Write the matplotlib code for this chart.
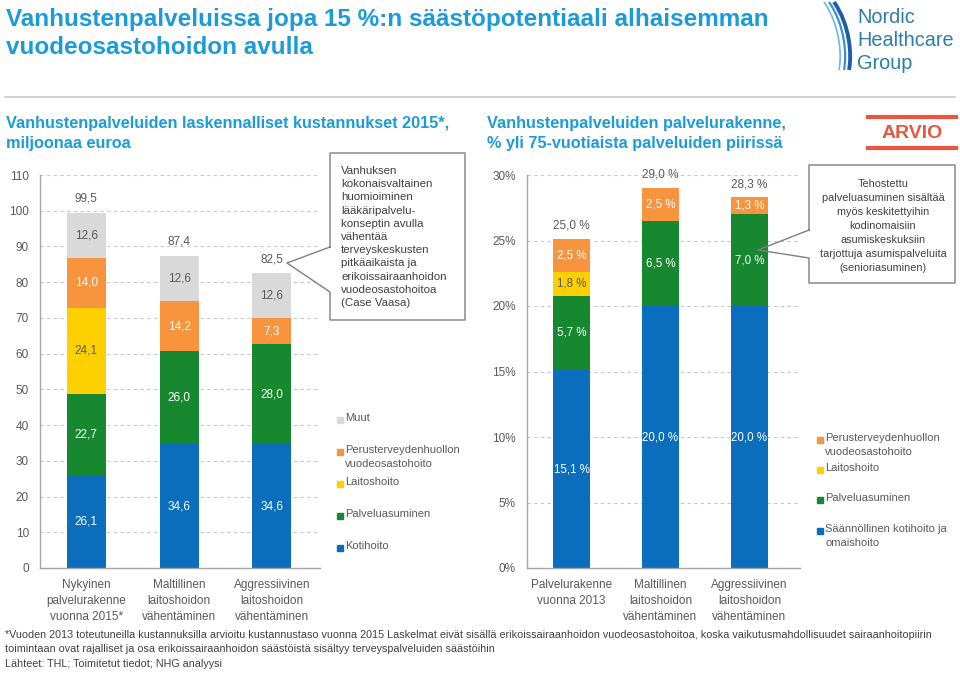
import matplotlib
matplotlib.use("Agg")
import matplotlib.pyplot as plt
from matplotlib.patches import Rectangle, PathPatch
from matplotlib.path import Path
from matplotlib.lines import Line2D
import numpy as np

plt.rcParams['font.family'] = ['Liberation Sans', 'DejaVu Sans']

W, H = 960, 674

# ---------------- data ----------------
left_cats = ["Nykyinen\npalvelurakenne\nvuonna 2015*", "Maltillinen\nlaitoshoidon\nvähentäminen",
             "Aggressiivinen\nlaitoshoidon\nvähentäminen"]
left_kotihoito = [26.1, 34.6, 34.6]
left_palvelu = [22.7, 26.0, 28.0]
left_laitos = [24.1, 0.0, 0.0]
left_perus = [14.0, 14.2, 7.3]
left_muut = [12.6, 12.6, 12.6]
left_totals = [99.5, 87.4, 82.5]
left_yticks = [0, 10, 20, 30, 40, 50, 60, 70, 80, 90, 100, 110]

right_cats = ["Palvelurakenne\nvuonna 2013", "Maltillinen\nlaitoshoidon\nvähentäminen",
              "Aggressiivinen\nlaitoshoidon\nvähentäminen"]
right_kotihoito = [15.1, 20.0, 20.0]
right_palvelu = [5.7, 6.5, 7.0]
right_laitos = [1.8, 0.0, 0.0]
right_perus = [2.5, 2.5, 1.3]
right_totals = [25.0, 29.0, 28.3]
right_yticks = [0, 5, 10, 15, 20, 25, 30]

C_BLUE = "#0A6EBD"
C_GREEN = "#17882F"
C_YELLOW = "#FFD000"
C_ORANGE = "#F7943D"
C_GRAY = "#D9D9D9"
TXT = "#595959"
TITLE = "#1B9BD8"

fig = plt.figure(figsize=(W / 100, H / 100), dpi=100)


def fx(x):
    return x / W


def fy(y):
    return 1 - y / H


def ftext(x, y, s, **kw):
    fig.text(fx(x), fy(y), s, **kw)


# ---------------- titles ----------------
ftext(6, 8, "Vanhustenpalveluissa jopa 15 %:n säästöpotentiaali alhaisemman\nvuodeosastohoidon avulla",
      color=TITLE, fontsize=17.5, fontweight='bold', va='top', ha='left', linespacing=1.3)
fig.add_artist(Line2D([fx(5), fx(955)], [fy(97), fy(97)], color="#C8C8C8", lw=1.2))
ftext(6, 116, "Vanhustenpalveluiden laskennalliset kustannukset 2015*,\nmiljoonaa euroa",
      color=TITLE, fontsize=11.7, fontweight='bold', va='top', ha='left', linespacing=1.45)
ftext(487, 116, "Vanhustenpalveluiden palvelurakenne,\n% yli 75-vuotiaista palveluiden piirissä",
      color=TITLE, fontsize=11.7, fontweight='bold', va='top', ha='left', linespacing=1.45)

# ARVIO box
fig.add_artist(Line2D([fx(868), fx(956)], [fy(117), fy(117)], color="#E8573F", lw=3))
fig.add_artist(Line2D([fx(868), fx(956)], [fy(148), fy(148)], color="#E8573F", lw=3))
ftext(912, 133, "ARVIO", color="#E8573F", fontsize=14, fontweight='bold', ha='center', va='center')

# Logo
ftext(857, 8, "Nordic\nHealthcare\nGroup", color="#2A7EA6", fontsize=14.3, va='top', ha='left',
      linespacing=1.28)
for (dx, col, lw) in [(0, "#1C5FA8", 2.8), (-5, "#3A8FD0", 1.6), (-10, "#6FB6E3", 1.2)]:
    verts = [(fx(834 + dx), fy(2)), (fx(850 + dx), fy(25)), (fx(852 + dx), fy(55)), (fx(849 + dx), fy(70))]
    path = Path(verts, [Path.MOVETO, Path.CURVE4, Path.CURVE4, Path.CURVE4])
    fig.add_artist(PathPatch(path, fill=False, edgecolor=col, lw=lw, transform=fig.transFigure))


# ---------------- axes helpers ----------------
def style_axes(ax, yticks, fmt):
    ax.set_yticks(yticks)
    ax.set_yticklabels([fmt(v) for v in yticks], color=TXT, fontsize=8.5)
    ax.tick_params(axis='y', length=0, pad=8)
    ax.tick_params(axis='x', length=0, pad=8)
    for s in ['top', 'right']:
        ax.spines[s].set_visible(False)
    for s in ['left', 'bottom']:
        ax.spines[s].set_color("#A6A6A6")
        ax.spines[s].set_linewidth(1.0)
    ax.yaxis.grid(True, linestyle=(0, (3, 3)), color="#C8C8C8", lw=0.8)
    ax.set_axisbelow(True)


# ---------------- left chart ----------------
axL = fig.add_axes([fx(40), fy(568), fx(320) - fx(40), fy(175) - fy(568)])
x = np.arange(3)
bw = 0.42
series_L = [(left_kotihoito, C_BLUE, 'white'), (left_palvelu, C_GREEN, 'white'),
            (left_laitos, C_YELLOW, TXT), (left_perus, C_ORANGE, 'white'), (left_muut, C_GRAY, TXT)]
bottom = np.zeros(3)
for vals, col, tcol in series_L:
    vals = np.array(vals)
    axL.bar(x, vals, bw, bottom=bottom, color=col, zorder=2)
    for i, v in enumerate(vals):
        if v > 0:
            axL.text(x[i], bottom[i] + v / 2, f"{v:.1f}".replace('.', ','), ha='center', va='center',
                     color=tcol, fontsize=8.5, zorder=3)
    bottom += vals
for i, t in enumerate(left_totals):
    axL.text(x[i], bottom[i] + 2.2, f"{t:.1f}".replace('.', ','), ha='center', va='bottom',
             color=TXT, fontsize=8.5)
axL.set_xlim(-0.5, 2.52)
axL.set_ylim(0, 110)
style_axes(axL, left_yticks, lambda v: f"{v}")
axL.set_xticks(x)
axL.set_xticklabels(left_cats, color=TXT, fontsize=8.5, linespacing=1.45)

# ---------------- right chart ----------------
axR = fig.add_axes([fx(527), fy(568), fx(800) - fx(527), fy(175) - fy(568)])
series_R = [(right_kotihoito, C_BLUE, 'white'), (right_palvelu, C_GREEN, 'white'),
            (right_laitos, C_YELLOW, TXT), (right_perus, C_ORANGE, 'white')]
bottom = np.zeros(3)
for vals, col, tcol in series_R:
    vals = np.array(vals)
    axR.bar(x, vals, bw, bottom=bottom, color=col, zorder=2)
    for i, v in enumerate(vals):
        if v > 0:
            axR.text(x[i], bottom[i] + v / 2, f"{v:.1f} %".replace('.', ','), ha='center', va='center',
                     color=tcol, fontsize=8.3, zorder=3)
    bottom += vals
for i, t in enumerate(right_totals):
    axR.text(x[i], max(bottom[i], t) + 0.55, f"{t:.1f} %".replace('.', ','), ha='center', va='bottom',
             color=TXT, fontsize=8.5)
axR.set_xlim(-0.5, 2.57)
axR.set_ylim(0, 30)
style_axes(axR, right_yticks, lambda v: f"{v}%")
axR.set_xticks(x)
axR.set_xticklabels(right_cats, color=TXT, fontsize=8.5, linespacing=1.45)

# ---------------- callouts ----------------
def callout(box, tip, p1, p2):
    x0, y0, x1, y1 = box
    pts = [(x0, p1), (x0, y0), (x1, y0), (x1, y1), (x0, y1), (x0, p2), tip, (x0, p1)]
    xs = [fx(p[0]) for p in pts]
    ys = [fy(p[1]) for p in pts]
    fig.add_artist(Line2D(xs, ys, color="#7F7F7F", lw=1.0))


callout((330, 153, 465, 320), (287, 263), 247, 292)
ftext(341, 166, "Vanhuksen\nkokonaisvaltainen\nhuomioiminen\nlääkäripalvelu-\nkonseptin avulla\nvähentää\n"
      "terveyskeskusten\npitkäaikaista ja\nerikoissairaanhoidon\nvuodeosastohoitoa\n(Case Vaasa)",
      color="#404040", fontsize=8.25, va='top', ha='left', linespacing=1.4)

callout((809, 165, 955, 283), (758, 250), 230, 258)
ftext(883, 179, "Tehostettu\npalveluasuminen sisältää\nmyös keskitettyihin\nkodinomaisiin\nasumiskeskuksiin\n"
      "tarjottuja asumispalveluita\n(senioriasuminen)",
      color="#404040", fontsize=7.8, va='top', ha='center', linespacing=1.5)

# ---------------- legends ----------------
def legend_item(xsq, y, col, label):
    s = 6
    fig.add_artist(Rectangle((fx(xsq), fy(y + s / 2)), s / W, s / H, color=col, transform=fig.transFigure))
    ftext(xsq + 8, y - 7, label, color=TXT, fontsize=8, va='top', ha='left', linespacing=1.45)


legend_item(337, 420, C_GRAY, "Muut")
legend_item(337, 452, C_ORANGE, "Perusterveydenhuollon\nvuodeosastohoito")
legend_item(337, 484, C_YELLOW, "Laitoshoito")
legend_item(337, 516, C_GREEN, "Palveluasuminen")
legend_item(337, 548, C_BLUE, "Kotihoito")

legend_item(817, 440, C_ORANGE, "Perusterveydenhuollon\nvuodeosastohoito")
legend_item(817, 470, C_YELLOW, "Laitoshoito")
legend_item(817, 500, C_GREEN, "Palveluasuminen")
legend_item(817, 531, C_BLUE, "Säännöllinen kotihoito ja\nomaishoito")

# ---------------- footnote ----------------
ftext(5, 630, "*Vuoden 2013 toteutuneilla kustannuksilla arvioitu kustannustaso vuonna 2015 Laskelmat eivät sisällä "
      "erikoissairaanhoidon vuodeosastohoitoa, koska vaikutusmahdollisuudet sairaanhoitopiirin\n"
      "toimintaan ovat rajalliset ja osa erikoissairaanhoidon säästöistä sisältyy terveyspalveluiden säästöihin\n"
      "Lähteet: THL; Toimitetut tiedot; NHG analyysi",
      color="#404040", fontsize=7.75, va='top', ha='left', linespacing=1.55)

fig.savefig("out.png", dpi=100)
